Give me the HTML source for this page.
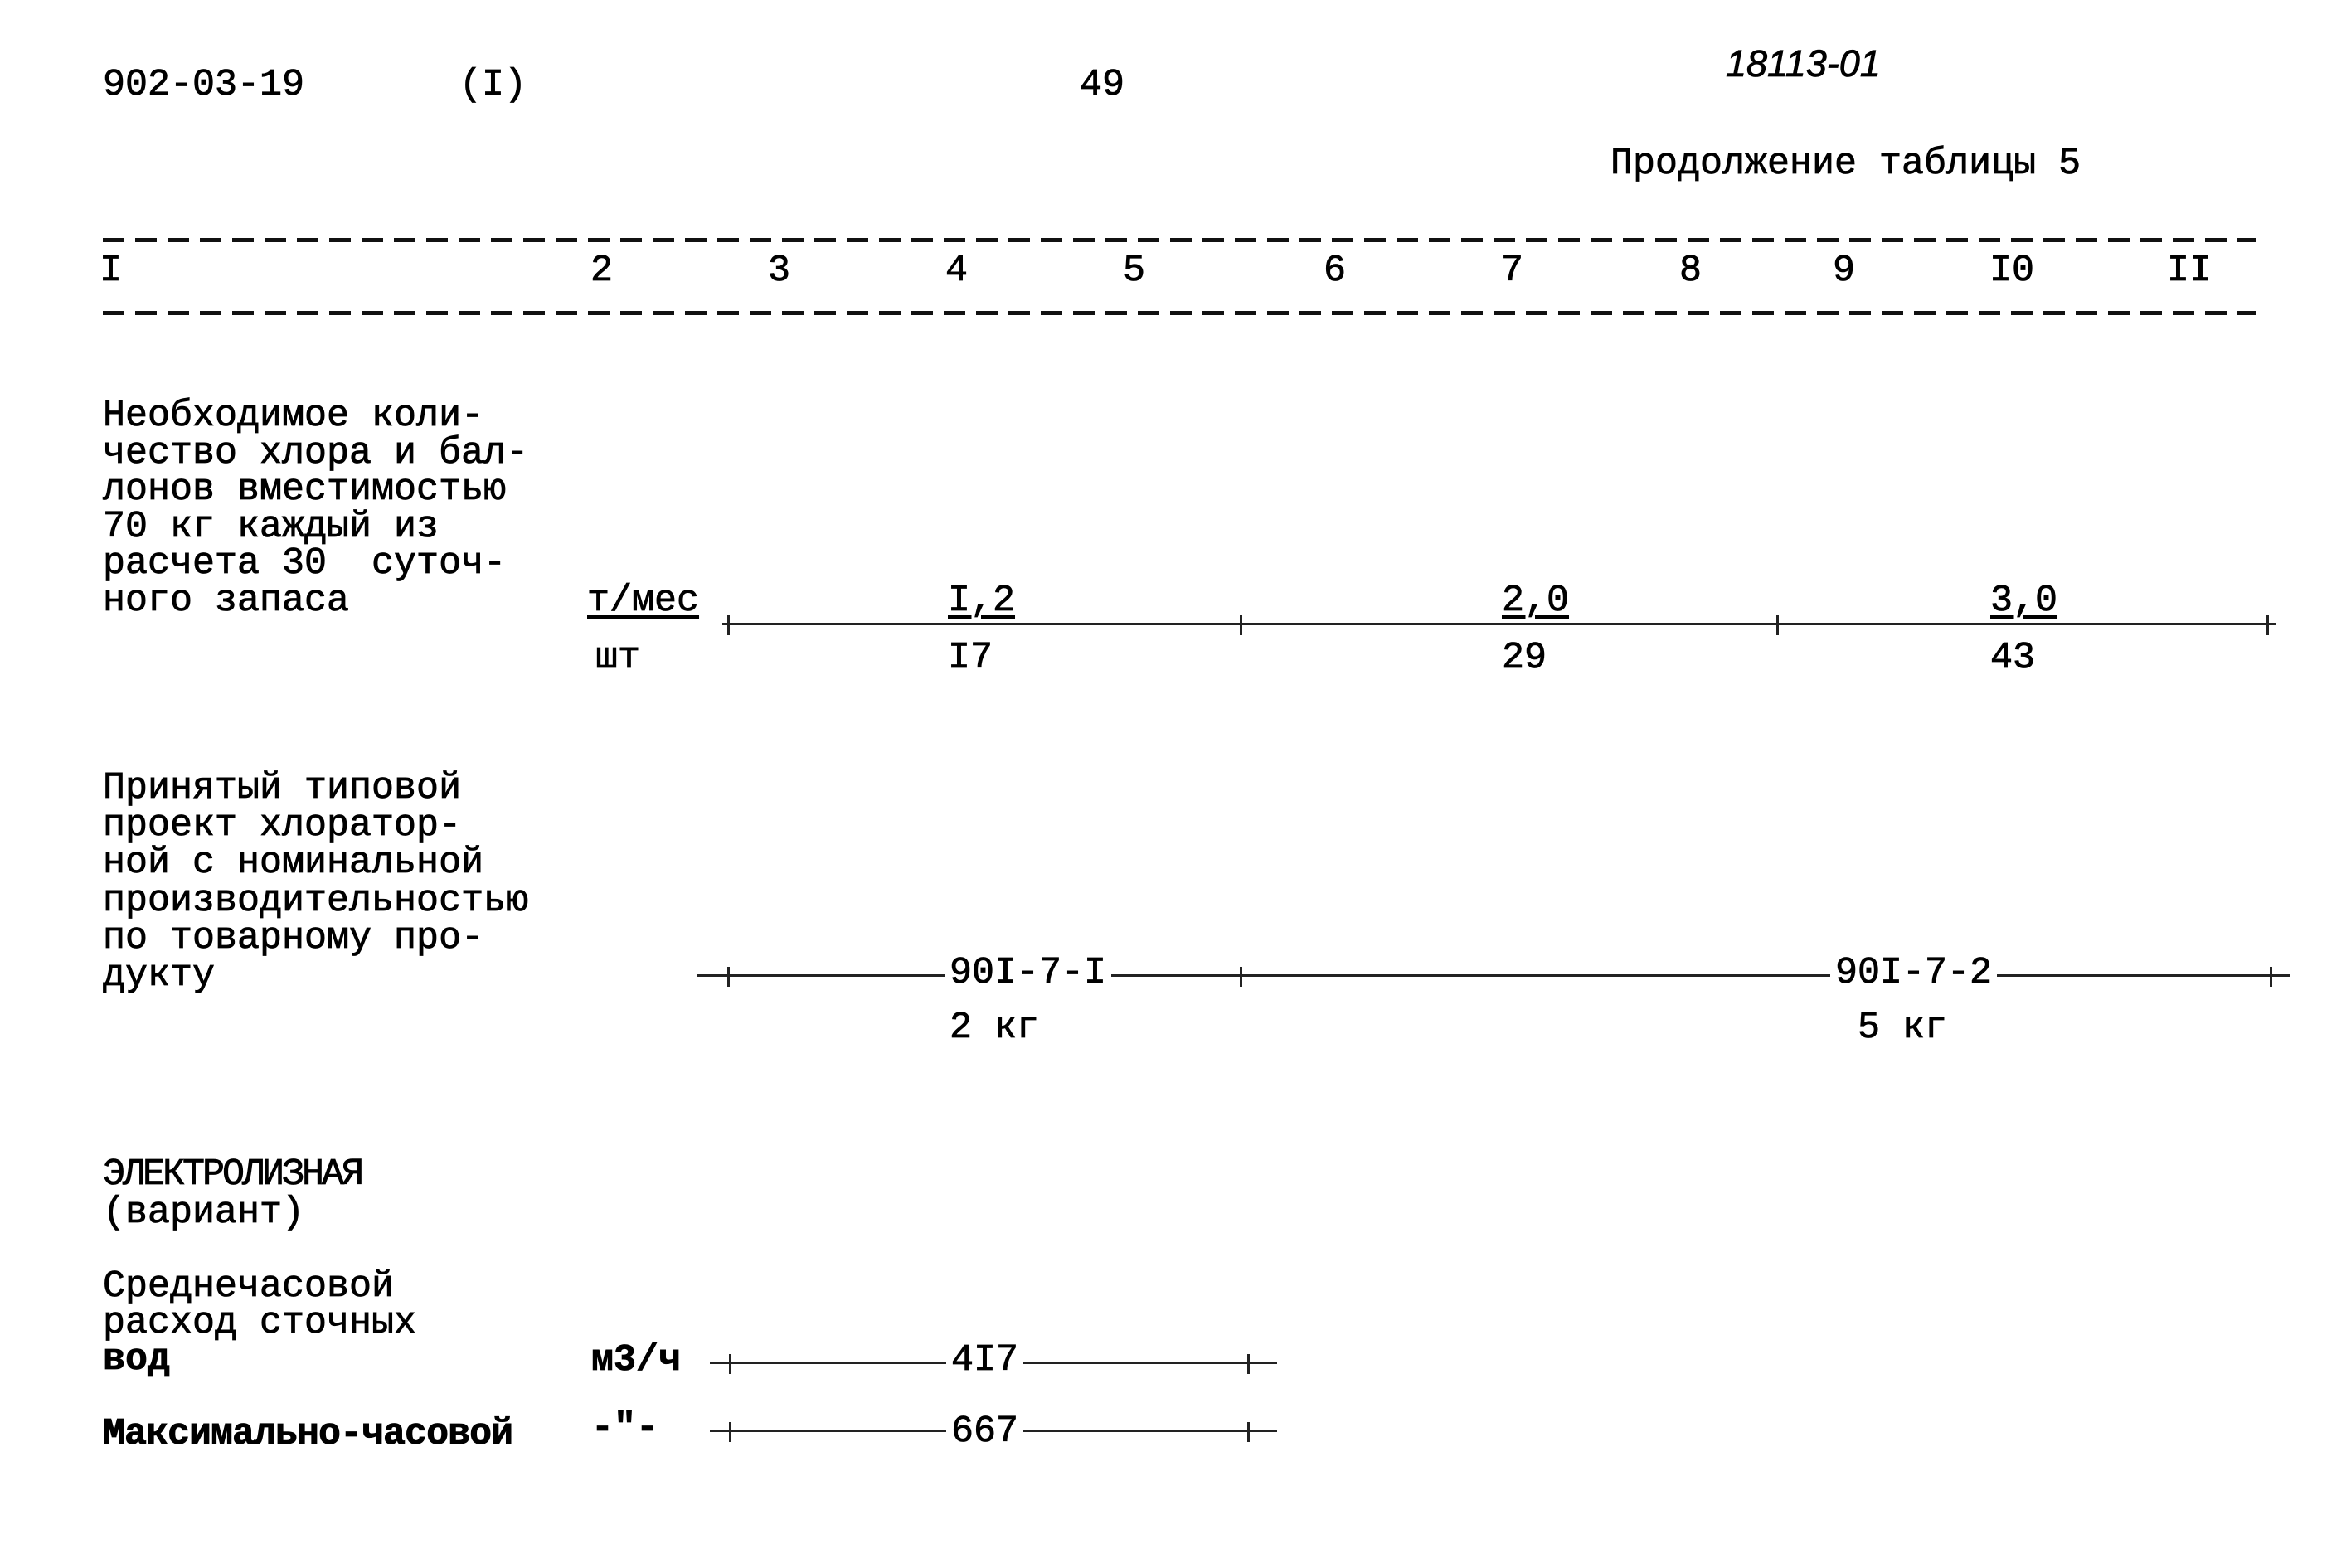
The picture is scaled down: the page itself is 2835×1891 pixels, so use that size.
<!DOCTYPE html>
<html><head><meta charset="utf-8"><style>
body{margin:0;width:2835px;height:1891px;background:#fff;position:relative;overflow:hidden;font-family:"Liberation Mono","DejaVu Sans Mono",monospace;color:#000}
.t{position:absolute;font-size:45px;line-height:46px;white-space:pre;-webkit-text-stroke:0.8px #000}
.b{font-weight:bold}
.ln{position:absolute;height:3px;background:#222}
.tk{position:absolute;width:3px;height:24px;background:#222}
.dash{position:absolute;height:5px;background:repeating-linear-gradient(90deg,#111 0 26px,transparent 26px 39px)}
.w{background:#fff;padding:0 6px}
.u{text-decoration:underline;text-decoration-thickness:4px;text-underline-offset:6px}
</style></head><body>
<div class="t" style="left:124px;top:80px">902-03-19</div>
<div class="t" style="left:554px;top:80px">(I)</div>
<div class="t" style="left:1302px;top:80px">49</div>
<div class="t" style="left:2081px;top:54px;font-style:italic;font-family:'Liberation Sans',sans-serif">18113-01</div>
<div class="t" style="left:1942px;top:175px">Продолжение таблицы 5</div>

<div class="dash" style="left:124px;top:287px;width:2596px"></div>
<div class="dash" style="left:124px;top:375px;width:2596px"></div>
<div class="t" style="left:120px;top:304px">I</div>
<div class="t" style="left:712px;top:304px">2</div>
<div class="t" style="left:926px;top:304px">3</div>
<div class="t" style="left:1140px;top:304px">4</div>
<div class="t" style="left:1354px;top:304px">5</div>
<div class="t" style="left:1596px;top:304px">6</div>
<div class="t" style="left:1810px;top:304px">7</div>
<div class="t" style="left:2025px;top:304px">8</div>
<div class="t" style="left:2210px;top:304px">9</div>
<div class="t" style="left:2399px;top:304px">I0</div>
<div class="t" style="left:2613px;top:304px">II</div>

<div class="t" style="left:124px;top:480px;line-height:44.6px">Необходимое коли-
чество хлора и бал-
лонов вместимостью
70 кг каждый из
расчета 30  суточ-
ного запаса</div>

<div class="ln" style="left:871px;top:751px;width:1873px"></div>
<div class="tk" style="left:877px;top:742px"></div>
<div class="tk" style="left:1495px;top:742px"></div>
<div class="tk" style="left:2142px;top:742px"></div>
<div class="tk" style="left:2733px;top:742px"></div>
<div class="t u" style="left:708px;top:702px;background:#fff">т/мес</div>
<div class="t" style="left:718px;top:771px">шт</div>
<div class="t w u" style="left:1137px;top:702px">I,2</div>
<div class="t" style="left:1143px;top:771px">I7</div>
<div class="t w u" style="left:1805px;top:702px">2,0</div>
<div class="t" style="left:1811px;top:771px">29</div>
<div class="t w u" style="left:2394px;top:702px">3,0</div>
<div class="t" style="left:2400px;top:771px">43</div>

<div class="t" style="left:124px;top:928px;line-height:45.2px">Принятый типовой
проект хлоратор-
ной с номинальной
производительностью
по товарному про-
дукту</div>

<div class="ln" style="left:841px;top:1175px;width:1921px"></div>
<div class="tk" style="left:877px;top:1166px"></div>
<div class="tk" style="left:1495px;top:1166px"></div>
<div class="tk" style="left:2737px;top:1166px"></div>
<div class="t w" style="left:1139px;top:1151px">90I-7-I</div>
<div class="t w" style="left:2207px;top:1151px">90I-7-2</div>
<div class="t" style="left:1145px;top:1217px">2 кг</div>
<div class="t" style="left:2240px;top:1217px">5 кг</div>

<div class="t" style="left:124px;top:1394px;letter-spacing:-3px">ЭЛЕКТРОЛИЗНАЯ</div>
<div class="t" style="left:124px;top:1440px">(вариант)</div>
<div class="t" style="left:124px;top:1530px;line-height:44px">Среднечасовой
расход сточных
<b>вод</b></div>

<div class="t b" style="left:713px;top:1618px">м3/ч</div>
<div class="ln" style="left:856px;top:1642px;width:684px"></div>
<div class="tk" style="left:879px;top:1633px"></div>
<div class="tk" style="left:1504px;top:1633px"></div>
<div class="t w" style="left:1141px;top:1618px">4I7</div>

<div class="t b" style="left:124px;top:1707px;letter-spacing:-1px">Максимально-часовой</div>
<div class="t b" style="left:713px;top:1700px">-"-</div>
<div class="ln" style="left:856px;top:1724px;width:684px"></div>
<div class="tk" style="left:879px;top:1715px"></div>
<div class="tk" style="left:1504px;top:1715px"></div>
<div class="t w" style="left:1141px;top:1704px">667</div>
</body></html>
